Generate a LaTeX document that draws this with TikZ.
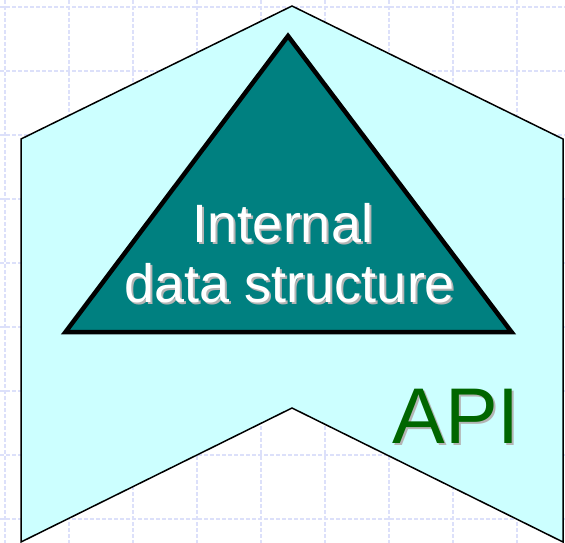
\documentclass[tikz,border=0pt]{standalone}
\usepackage{fontspec}
\setmainfont{Liberation Sans}
\definecolor{apifill}{HTML}{CCFFFF}
\definecolor{coreteal}{HTML}{008080}
\definecolor{apigreen}{HTML}{006600}
\definecolor{shade}{HTML}{B4B4B4}
\definecolor{gridc}{HTML}{DCE0FA}
\usetikzlibrary{positioning}
% text with a grey drop shadow behind it
\newcommand{\shtxt}[2]{\rlap{\kern2pt\raisebox{-2pt}{\textcolor{shade}{#2}}}\textcolor{#1}{#2}}
\tikzset{
  gridline/.style={draw=gridc,line width=1.3pt,dash pattern=on 4pt off 2pt},
  wall/.style={draw=black,line width=1.5pt,fill=apifill,line join=miter},
  corebox/.style={draw=black,line width=4.5pt,fill=coreteal,line join=miter},
  txt/.style={inner sep=0pt,anchor=base,font=\fontsize{54}{60}\selectfont},
  apitxt/.style={inner sep=0pt,anchor=base,font=\fontsize{79}{90}\selectfont},
}
\begin{document}
\begin{tikzpicture}[x=1pt,y=-1pt]
\useasboundingbox (0,0) rectangle (565,543);
% background grid
\foreach \k in {0,...,8} {
  \draw[gridline] (5+64*\k,0) -- (5+64*\k,543);
  \draw[gridline] (0,7+64*\k) -- (565,7+64*\k);
}
% outer API layer
\draw[wall] (21,139) -- (292,6) -- (563,139) -- (563,542) -- (292,408) -- (21,542) -- cycle;
% inner triangle
\draw[corebox] (288,36) -- (511.5,332) -- (65.5,332) -- cycle;
% labels
\node[txt] (int) at (283,242) {\shtxt{white}{Internal}};
\node[txt] (ds) at (290,302) {\shtxt{white}{data structure}};
\node[apitxt] (api) at (456,443) {\shtxt{apigreen}{API}};
\end{tikzpicture}
\end{document}
